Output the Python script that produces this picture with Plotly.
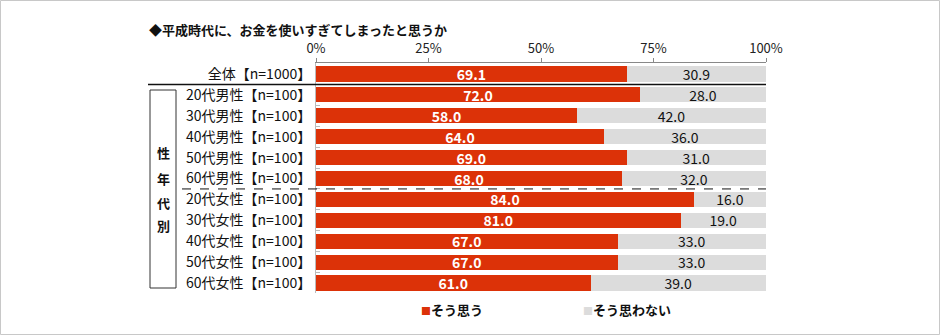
import plotly.graph_objects as go

W, H = 940, 335
FONT = "Noto Sans CJK JP"

title = "◆平成時代に、お金を使いすぎてしまったと思うか"
categories = ["全体【n=1000】",
              "20代男性【n=100】", "30代男性【n=100】", "40代男性【n=100】",
              "50代男性【n=100】", "60代男性【n=100】",
              "20代女性【n=100】", "30代女性【n=100】", "40代女性【n=100】",
              "50代女性【n=100】", "60代女性【n=100】"]
agree = [69.1, 72.0, 58.0, 64.0, 69.0, 68.0, 84.0, 81.0, 67.0, 67.0, 61.0]
disagree = [30.9, 28.0, 42.0, 36.0, 31.0, 32.0, 16.0, 19.0, 33.0, 33.0, 39.0]
series_names = ["そう思う", "そう思わない"]
series_colors = ["#dc3208", "#dcdcdc"]
x_ticks = [0, 25, 50, 75, 100]
x_ticktext = ["0%", "25%", "50%", "75%", "100%"]
group_label = ["性", "年", "代", "別"]


def px_x(p):
    return p / W


def px_y(p):
    return 1 - p / H


fig = go.Figure()
fig.add_trace(go.Bar(
    y=categories, x=agree, orientation="h", name=series_names[0],
    marker=dict(color=series_colors[0], line=dict(width=0)),
    texttemplate="%{x:.1f}", textposition="inside", insidetextanchor="middle",
    constraintext="none",
    textfont=dict(family=FONT, size=14, color="white", weight="bold"),
    width=0.72, showlegend=False, hoverinfo="skip"))
fig.add_trace(go.Bar(
    y=categories, x=disagree, orientation="h", name=series_names[1],
    marker=dict(color=series_colors[1], line=dict(width=0)),
    texttemplate="%{x:.1f}", textposition="inside", insidetextanchor="middle",
    constraintext="none",
    textfont=dict(family=FONT, size=14, color="#111"),
    width=0.72, showlegend=False, hoverinfo="skip"))

n = len(categories)
top_px, bot_px = 63, 293
row_px = 20.9
r_top = -(74 - top_px) / row_px
r_bot = (n - 1) + (bot_px - 283) / row_px

fig.update_layout(
    width=W, height=H, barmode="stack", autosize=False,
    margin=dict(l=0, r=0, t=0, b=0, pad=0),
    paper_bgcolor="white", plot_bgcolor="white",
    font=dict(family=FONT, size=13, color="#111"),
    xaxis=dict(domain=[px_x(316), px_x(766)], range=[0, 100], side="top",
               tickvals=x_ticks, ticktext=x_ticktext, ticks="outside",
               ticklen=4, tickcolor="#888", showline=True, linecolor="#888",
               linewidth=1, showgrid=False, zeroline=False, automargin=False,
               tickfont=dict(family=FONT, size=13, color="#222")),
    yaxis=dict(domain=[px_y(bot_px), px_y(top_px)], type="category",
               categoryorder="array", categoryarray=categories,
               range=[r_bot, r_top], showline=True, linecolor="#bbb",
               ticks="inside", tickson="boundaries", ticklen=4,
               tickcolor="#bbb", showgrid=False, zeroline=False,
               ticklabelstandoff=1, automargin=False,
               tickfont=dict(family=FONT, size=14, color="#111")),
)

# title
fig.add_annotation(text=title, xref="paper", yref="paper", x=px_x(147),
                   y=px_y(29), xanchor="left", yanchor="middle",
                   showarrow=False,
                   font=dict(family=FONT, size=13, color="#111", weight="bold"))

# separator lines
fig.add_shape(type="line", xref="paper", yref="y", x0=px_x(148), x1=px_x(766),
              y0=0.5, y1=0.5, line=dict(color="#111", width=1.5))
fig.add_shape(type="line", xref="paper", yref="y", x0=px_x(182), x1=px_x(766),
              y0=5.5, y1=5.5, line=dict(color="#111", width=1, dash="dash"))

# group box
fig.add_shape(type="rect", xref="paper", yref="paper", x0=px_x(150),
              x1=px_x(176), y0=px_y(288), y1=px_y(90),
              line=dict(color="#333", width=1))
for ch, yy in zip(group_label, [153, 178, 202, 225]):
    fig.add_annotation(text=ch, xref="paper", yref="paper", x=px_x(163),
                       y=px_y(yy), xanchor="center", yanchor="middle",
                       showarrow=False,
                       font=dict(family=FONT, size=13, color="#111",
                                 weight="bold"))

# legend
for name, col, xx in zip(series_names, series_colors, [419, 581]):
    fig.add_annotation(
        text=f"<span style='color:{col};font-size:10px'>■</span><b>{name}</b>",
        xref="paper", yref="paper", x=px_x(xx), y=px_y(309),
        xanchor="left", yanchor="middle", showarrow=False,
        font=dict(family=FONT, size=13, color="#111"))

# outer border
fig.add_shape(type="rect", xref="paper", yref="paper", x0=0.5 / W,
              x1=1 - 0.5 / W, y0=0.5 / H, y1=1 - 0.5 / H,
              line=dict(color="#c8c8c8", width=1))

fig.write_html("out.html")
